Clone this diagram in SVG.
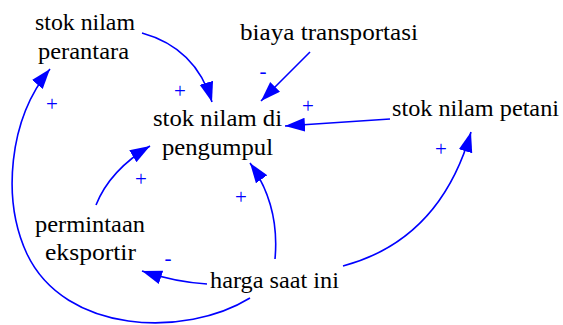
<svg xmlns="http://www.w3.org/2000/svg" width="563" height="325" viewBox="0 0 563 325">
  <style>
    .lbl { font-family: "Liberation Serif", "Times New Roman", serif; font-size: 24px; fill: #000; }
    .pol { font-family: "Liberation Serif", "Times New Roman", serif; font-size: 21px; fill: #0000ff; text-anchor: middle; }
    .link { fill: none; stroke: #0000ff; stroke-width: 1.6; }
  </style>
  <defs>
    <marker id="head" markerUnits="userSpaceOnUse" markerWidth="22" markerHeight="16" refX="20" refY="7" orient="auto">
      <path d="M0,0 L20,7 L0,14 Z" fill="#0000ff"/>
    </marker>
  </defs>
  <rect width="563" height="325" fill="#fff"/>

  <g id="stok-nilam-perantara">
    <text class="lbl" x="35" y="30" textLength="100" lengthAdjust="spacingAndGlyphs">stok nilam</text>
    <text class="lbl" x="38" y="59" textLength="91" lengthAdjust="spacingAndGlyphs">perantara</text>
  </g>
  <g id="biaya-transportasi">
    <text class="lbl" x="240" y="40" textLength="178" lengthAdjust="spacingAndGlyphs">biaya transportasi</text>
  </g>
  <g id="stok-nilam-di-pengumpul">
    <text class="lbl" x="153" y="126" textLength="129" lengthAdjust="spacingAndGlyphs">stok nilam di</text>
    <text class="lbl" x="162" y="155" textLength="111" lengthAdjust="spacingAndGlyphs">pengumpul</text>
  </g>
  <g id="stok-nilam-petani">
    <text class="lbl" x="392" y="116" textLength="167" lengthAdjust="spacingAndGlyphs">stok nilam petani</text>
  </g>
  <g id="permintaan-eksportir">
    <text class="lbl" x="35" y="232" textLength="110" lengthAdjust="spacingAndGlyphs">permintaan</text>
    <text class="lbl" x="45" y="260" textLength="91" lengthAdjust="spacingAndGlyphs">eksportir</text>
  </g>
  <g id="harga-saat-ini">
    <text class="lbl" x="210" y="288" textLength="129" lengthAdjust="spacingAndGlyphs">harga saat ini</text>
  </g>

  <g id="connectors">
    <path class="link" marker-end="url(#head)" d="M142,33 Q196,48 212,102"/>
    <path class="link" marker-end="url(#head)" d="M310,52 L261,101"/>
    <path class="link" marker-end="url(#head)" d="M390,119 L285,126"/>
    <path class="link" marker-end="url(#head)" d="M343,266 Q440,240 471,132"/>
    <path class="link" marker-end="url(#head)" d="M275,259 Q280,205 250,163"/>
    <path class="link" marker-end="url(#head)" d="M207,284 Q175,282 142,271"/>
    <path class="link" marker-end="url(#head)" d="M96,205 Q110,170 150,146"/>
    <path class="link" marker-end="url(#head)" d="M250,298 C185,338 65,334 27,254 C2,200 8,120 50,69"/>
  </g>

  <g id="polarities">
    <text class="pol" x="180" y="98">+</text>
    <text class="pol" x="263" y="78">-</text>
    <text class="pol" x="52" y="111">+</text>
    <text class="pol" x="308" y="113">+</text>
    <text class="pol" x="441" y="156">+</text>
    <text class="pol" x="141" y="186">+</text>
    <text class="pol" x="241" y="204">+</text>
    <text class="pol" x="168" y="265">-</text>
  </g>
</svg>
